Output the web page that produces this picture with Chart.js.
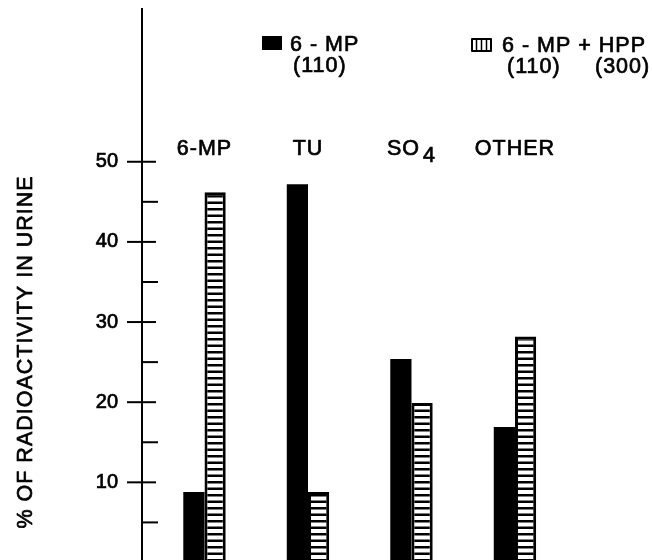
<!DOCTYPE html>
<html><head><meta charset="utf-8">
<style>html,body{margin:0;padding:0;background:#fff;overflow:hidden}#wrap{width:652px;height:560px}</style>
<script src="https://cdn.jsdelivr.net/npm/chart.js@4/dist/chart.umd.min.js"></script>
</head><body><div id="wrap"><canvas id="c" width="652" height="560"></canvas></div>
<script>
// ---- data ----
const categories = ['6-MP', 'TU', 'SO_4', 'OTHER'];
const mpValues = [8.8, 47.2, 25.4, 16.9];
const mpHppValues = [46.2, 8.8, 19.9, 28.2];
const seriesNames = ['6 - MP', '6 - MP + HPP'];
const seriesDoses = [['(110)'], ['(110)', '(300)']];
const tickValues = [5, 10, 15, 20, 25, 30, 35, 40, 45, 50];
const labeledTicks = [10, 20, 30, 40, 50];
const yTitle = '% OF RADIOACTIVITY IN URINE';

const FONT = '"Liberation Sans", Arial, sans-serif';
const canvas = document.getElementById('c');
const ctx0 = canvas.getContext('2d');

function makeHatch() {
  const c = document.createElement('canvas');
  c.width = 8; c.height = 13;
  const g = c.getContext('2d');
  g.fillStyle = '#fff'; g.fillRect(0, 0, 8, 13);
  g.fillStyle = '#000';
  g.fillRect(0, 0, 8, 2.5);
  g.fillRect(0, 6.5, 8, 2.5);
  return ctx0.createPattern(c, 'repeat');
}
const hatch = makeHatch();

function txt(ctx, s, x, y) {
  ctx.strokeText(s, x, y);
  ctx.fillText(s, x, y);
}

const decor = {
  id: 'decor',
  afterDraw(chart) {
    const ctx = chart.ctx, ys = chart.scales.y, xs = chart.scales.x;
    const ax = chart.chartArea.left;
    ctx.save();
    // tick marks
    ctx.strokeStyle = '#000'; ctx.lineWidth = 2;
    tickValues.forEach(v => {
      const py = ys.getPixelForValue(v);
      const major = labeledTicks.includes(v);
      ctx.beginPath();
      ctx.moveTo(major ? ax - 15 : ax, py);
      ctx.lineTo(major ? ax + 14 : ax + 16, py);
      ctx.stroke();
    });
    // category labels
    ctx.fillStyle = '#000';
    ctx.font = '21.5px ' + FONT;
    ctx.letterSpacing = '1px';
    ctx.lineWidth = 0.7;
    ctx.lineJoin = 'round';
    ctx.textBaseline = 'alphabetic';
    ctx.textAlign = 'left';
    categories.forEach((lab, i) => {
      const cx = xs.getPixelForValue(i);
      const parts = lab.split('_');
      const w0 = ctx.measureText(parts[0]).width;
      const w1 = parts[1] ? ctx.measureText(parts[1]).width + 3 : 0;
      const sx = cx - (w0 + w1) / 2;
      txt(ctx, parts[0], sx, 155);
      if (parts[1]) txt(ctx, parts[1], sx + w0 + 3, 162);
    });
    // legend 1 (solid)
    ctx.fillRect(262, 36, 20, 14);
    txt(ctx, seriesNames[0], 290, 51);
    txt(ctx, seriesDoses[0][0], 293, 72);
    // legend 2 (hatched)
    ctx.save();
    ctx.lineWidth = 2;
    ctx.strokeRect(472, 39, 19, 12);
    ctx.lineWidth = 1.5;
    [476.5, 481.5, 486.5].forEach(lx => {
      ctx.beginPath(); ctx.moveTo(lx, 39); ctx.lineTo(lx, 51); ctx.stroke();
    });
    ctx.restore();
    txt(ctx, seriesNames[1], 502, 52);
    txt(ctx, seriesDoses[1][0], 507, 73);
    txt(ctx, seriesDoses[1][1], 595, 73);
    // y title
    ctx.translate(32, 352);
    ctx.rotate(-Math.PI / 2);
    ctx.textAlign = 'center';
    txt(ctx, yTitle, 0, 0);
    ctx.restore();
  }
};

new Chart(canvas, {
  type: 'bar',
  data: {
    datasets: [
      { label: seriesNames[0], data: mpValues.map((v, i) => ({ x: i, y: v })),
        backgroundColor: '#000', borderWidth: 0 },
      { label: seriesNames[1], data: mpHppValues.map((v, i) => ({ x: i, y: v })),
        backgroundColor: hatch, borderColor: '#000', borderWidth: 3 }
    ]
  },
  options: {
    responsive: false,
    animation: false,
    devicePixelRatio: 1,
    categoryPercentage: 0.41,
    barPercentage: 1,
    layout: { padding: { top: 9, left: 0, right: 0, bottom: 0 } },
    plugins: { legend: { display: false }, tooltip: { enabled: false }, title: { display: false } },
    scales: {
      x: { type: 'linear', display: false, offset: false, min: -0.604, max: 4.324 },
      y: {
        type: 'linear', min: 0.31, max: 69.06,
        grid: { display: false, drawTicks: false },
        border: { display: true, color: '#000', width: 2 },
        ticks: {
          color: '#000', padding: 24,
          textStrokeColor: '#000', textStrokeWidth: 0.7,
          font: { family: FONT, size: 20 },
          callback: v => labeledTicks.includes(v) ? String(v) : ''
        },
        afterBuildTicks: s => { s.ticks = tickValues.map(v => ({ value: v })); },
        afterFit: s => { s.width = 142; s.paddingTop = 0; s.paddingBottom = 0; }
      }
    }
  },
  plugins: [decor]
});
</script></body></html>
